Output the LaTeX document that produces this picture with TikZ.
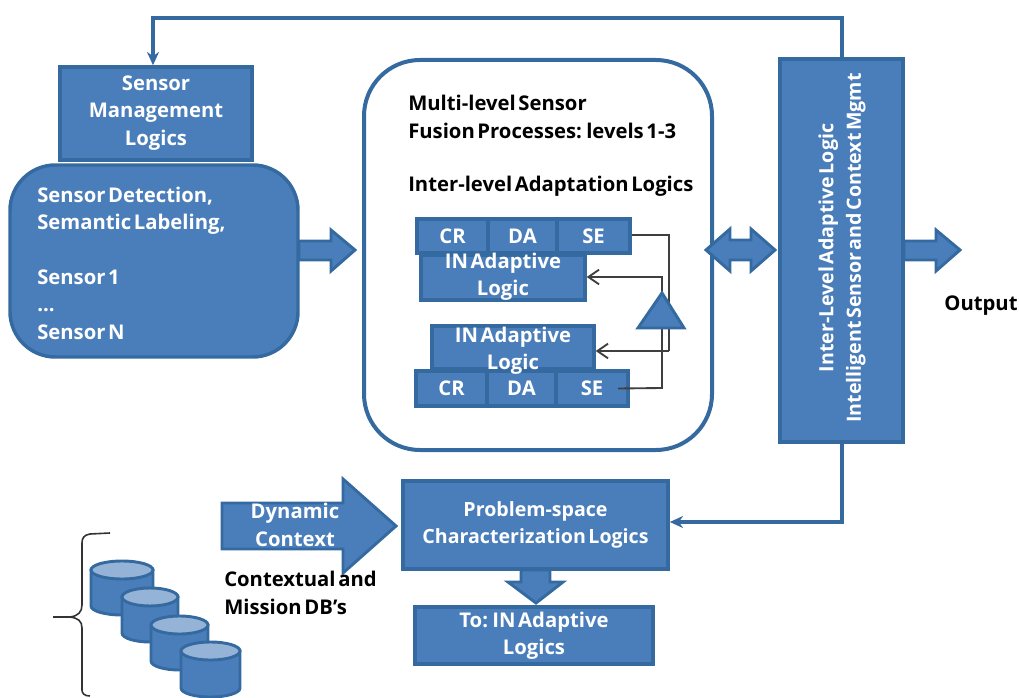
\documentclass[tikz,border=0pt]{standalone}
\usepackage{fontspec}
\setmainfont{Open Sans}
\usetikzlibrary{arrows.meta}
\definecolor{bfill}{HTML}{4A7EBB}
\definecolor{bline}{HTML}{356AA0}
\definecolor{btop}{HTML}{95B3D7}
\definecolor{wire}{HTML}{3F3F3F}
\newcommand{\boldfont}{\bfseries\fontsize{15.2}{20.5}\selectfont\spaceskip=0.13em\relax}
\newcommand{\boldsmall}{\bfseries\fontsize{14.7}{20.5}\selectfont\spaceskip=0.13em\relax}
\tikzset{
  x=0.75pt,y=-0.75pt,
  bluebox/.style={draw=bline,fill=bfill,line width=2.6pt,text=white,font=\boldfont,align=center,inner sep=0pt},
  bluepath/.style={draw=bline,fill=bfill,line width=2.2pt,line join=miter},
  label/.style={inner sep=0pt,font=\boldfont,text=black,align=left},
  wlabel/.style={inner sep=0pt,font=\boldfont,text=white,align=center},
  feedback/.style={draw=bline,line width=2.4pt,-{Stealth[length=10pt,width=9pt]}},
  wire line/.style={draw=wire,line width=1.4pt},
  wire arrow/.style={draw=wire,line width=1.4pt,-{Straight Barb[length=8pt,width=11pt]}},
  dbstyle/.style={draw=bline,fill=bfill,line width=2.2pt},
  dbtop/.style={draw=bline,fill=btop,line width=2.2pt},
}
% name, x1, y1, x2, y2 (pixels), extra style, text
\newcommand{\pxbox}[7]{%
  \pgfmathsetmacro{\pxw}{(#4-#2)*0.75}%
  \pgfmathsetmacro{\pxh}{(#5-#3)*0.75}%
  \node[bluebox,minimum width=\pxw pt,minimum height=\pxh pt,#6] (#1) at ({(#2+#4)/2},{(#3+#5)/2}) {#7};%
}
% cylinder: x1, y1, x2, y2
\newcommand{\dbcyl}[4]{%
  \pgfmathsetmacro{\rx}{(#3-#1)/2}%
  \pgfmathsetmacro{\cx}{(#1+#3)/2}%
  \draw[dbstyle] (#1,#2+9) -- (#1,#4-9) arc[start angle=180,end angle=360,x radius=\rx,y radius=-9] -- (#3,#2+9) -- cycle;
  \draw[dbtop] (\cx,#2+9) ellipse[x radius=\rx,y radius=9];%
}
\begin{document}
\begin{tikzpicture}
\useasboundingbox (0,0) rectangle (1019,698);

% fusion panel
\draw[draw=bline,fill=white,line width=3pt,rounded corners=42pt] (364,60) rectangle (712,450);

% main boxes
\pxbox{mgmt}{60}{67}{252}{160}{}{}
\node[wlabel] (mgmttext) at (156,113) {Sensor\\Management\\Logics};
\pxbox{sensors}{10}{165}{298}{357}{rounded corners=34pt}{}
\node[wlabel,align=left,anchor=north west] (sensortext) at (37,187) {Sensor Detection,\\Semantic Labeling,\\[20.5pt]Sensor 1\\...\\Sensor N};
\pxbox{inter}{780}{59}{903}{442}{}{}
\node[wlabel,rotate=90,font=\boldsmall] (intertext) at (842,248) {Inter-Level Adaptive Logic\\Intelligent Sensor and Context Mgmt};
\pxbox{problem}{403}{481}{668}{569}{font=\boldsmall}{Problem-space\\Characterization Logics}
\pxbox{toin}{415}{607}{653}{664}{}{}
\node[wlabel] (tointext) at (534,636) {To: IN Adaptive\\Logics};

% panel texts
\node[label,anchor=west] (mlabel) at (408,117) {Multi-level Sensor\\Fusion Processes: levels 1-3};
\node[label,anchor=west] (ilabel) at (408,186) {Inter-level Adaptation Logics};

% upper chain
\pxbox{cr1}{417}{219}{488}{253}{}{CR}
\pxbox{da1}{488}{219}{557}{253}{}{DA}
\pxbox{se1}{557}{219}{630}{253}{}{SE}
\pxbox{in1}{421}{255}{585}{300}{}{}
\node[wlabel] (in1text) at (503,277) {IN Adaptive\\Logic};
% lower chain
\pxbox{cr2}{416}{371}{487}{406}{}{CR}
\pxbox{da2}{487}{371}{556}{406}{}{DA}
\pxbox{se2}{556}{371}{628}{406}{}{SE}
\pxbox{in2}{432}{326}{594}{369}{}{}
\node[wlabel] (in2text) at (513,351) {IN Adaptive\\Logic};

\coordinate (apex) at (662,293);
\coordinate (base) at (662,328);
\coordinate (right1) at (669,235);
\coordinate (right2) at (669,351);
\coordinate (left1) at (662,277);
\coordinate (left2) at (662,388);

% wires
\draw[wire line] (se1.east |- right1) -- (right1) -- (right2);
\draw[wire arrow] (right2) -- (in2.east |- right2);
\draw[wire arrow] (apex) -- (left1) -- (in1.east |- left1);
\draw[wire line] (se2.center) ++(26,0) -- (left2) -- (base);

% triangle
\draw[bluepath] (apex) -- (684,328) -- (638,328) -- cycle;

% feedback lines
\coordinate (c1) at (842,18);
\coordinate (c2) at (153,18);
\draw[feedback] (inter.north -| c1) -- (c1) -- (c2) -- (c2 |- mgmt.north);
\coordinate (c3) at (842,522);
\draw[feedback] (inter.south -| c3) -- (c3) -- (problem.east |- c3);

% block arrows
\draw[bluepath] (299,241) -- (331,241) -- (331,230) -- (355,250) -- (331,271) -- (331,260) -- (299,260) -- cycle;
\draw[bluepath] (706,250) -- (730,229) -- (730,240) -- (751,240) -- (751,229) -- (775,250) -- (751,271) -- (751,260) -- (730,260) -- (730,271) -- cycle;
\draw[bluepath] (904,241) -- (936,241) -- (936,230) -- (960,250) -- (936,271) -- (936,260) -- (904,260) -- cycle;
\draw[bluepath] (521,570) -- (550,570) -- (550,582) -- (563,582) -- (536,603) -- (508,582) -- (521,582) -- cycle;
\draw[bluepath] (222,503) -- (343,503) -- (343,479) -- (396,526) -- (343,573) -- (343,549) -- (222,549) -- cycle;
\node[wlabel] (dyn) at (295,525) {Dynamic\\Context};

% output and DB labels
\node[label,anchor=center] (output) at (981,306) {Output};
\node[label,anchor=west] (dblabel) at (224,593) {Contextual and\\Mission DB's};

% databases
\dbcyl{91}{561}{153}{615}
\dbcyl{122}{588}{178}{642}
\dbcyl{151}{616}{208}{670}
\dbcyl{181}{642}{240}{697}

% brace
\draw[black!80,line width=1.2pt] (110,533) -- (90,534) .. controls (84,535) and (82,538) .. (82,543) -- (82,605) .. controls (82,612) and (78,616) .. (70,617) -- (53,617);
\draw[black!80,line width=1.2pt] (70,617) .. controls (78,618) and (82,621) .. (82,628) -- (82,690) .. controls (82,693) and (84,696) .. (90,696);
\end{tikzpicture}
\end{document}
